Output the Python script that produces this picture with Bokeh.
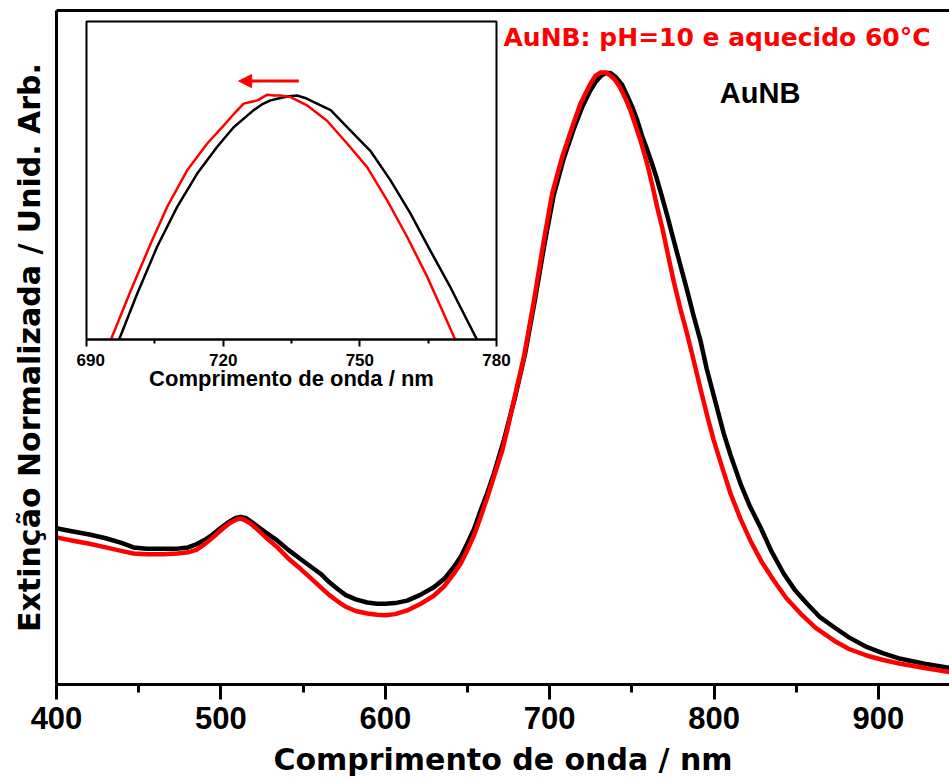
from bokeh.plotting import figure
from bokeh.models import Range1d, FixedTicker, LinearAxis, Label, Arrow, NormalHead
from bokeh.embed import file_html
from bokeh.resources import INLINE

# ---------------- data (main spectrum) ----------------
wl_black = [400.6, 410, 420, 430, 440, 446.8, 455, 465, 473.6, 480, 485, 490, 495, 500, 505,
            509, 512, 515, 518, 522, 527, 534.4, 541, 548.4, 555, 560.6, 566, 571, 576, 582,
            589, 595, 600, 606, 613.3, 621, 629.5, 636, 641.7, 646, 649.8, 654, 657.9, 662,
            666, 672.1, 679, 685, 691, 697, 702.5, 708.6, 714.7, 720, 724, 728, 731, 734, 737,
            740, 744, 747, 750, 753, 756, 759, 762, 765, 768, 771.5, 775.5, 779.5, 783.6,
            787.5, 791.7, 795.5, 799.8, 805.9, 810, 816.1, 822, 828.2, 835, 842.4, 849, 856.6,
            864, 872.8, 882, 893.1, 903, 913.4, 928, 943.5]
ext_black = [0.255, 0.250, 0.245, 0.239, 0.231, 0.224, 0.222, 0.222, 0.222, 0.224, 0.229, 0.236,
             0.245, 0.256, 0.266, 0.272, 0.274, 0.272, 0.267, 0.259, 0.249, 0.235, 0.220, 0.205,
             0.192, 0.181, 0.167, 0.156, 0.146, 0.139, 0.134, 0.132, 0.132, 0.133, 0.137, 0.146,
             0.159, 0.173, 0.192, 0.209, 0.230, 0.254, 0.284, 0.313, 0.344, 0.399, 0.470, 0.540,
             0.628, 0.722, 0.800, 0.860, 0.908, 0.945, 0.967, 0.985, 0.994, 0.999, 0.999, 0.993,
             0.980, 0.963, 0.945, 0.924, 0.898, 0.876, 0.853, 0.828, 0.800, 0.766, 0.725, 0.685,
             0.644, 0.603, 0.562, 0.516, 0.472, 0.410, 0.375, 0.328, 0.290, 0.257, 0.217, 0.181,
             0.155, 0.132, 0.111, 0.094, 0.077, 0.061, 0.051, 0.042, 0.034, 0.027]

wl_red = [400.6, 410, 420, 430, 440, 446.8, 455, 465, 473.6, 480, 485, 490, 495, 500, 505,
          509, 512, 515, 518, 522, 527, 534.4, 541, 548.4, 555, 560.6, 566, 571, 576, 582,
          589, 595, 600, 606, 613.3, 621, 629.5, 636, 641.7, 646, 649.8, 654, 657.9, 662,
          666, 671.1, 674.1, 678.2, 684.3, 690.4, 696.4, 701.5, 707.6, 713.7, 718.7, 722, 725,
          728, 731, 734, 737, 740, 743.1, 746, 749.1, 752, 755.2, 759.3, 762.5, 765.4, 768.5,
          771.5, 775.5, 779.5, 783.6, 788, 792.2, 796, 799.8, 805, 810, 816, 822.1, 829, 836.3,
          844, 852.6, 862, 872.8, 882, 893.1, 903, 913.4, 928, 943.5]
ext_red = [0.240, 0.235, 0.230, 0.224, 0.218, 0.214, 0.213, 0.213, 0.214, 0.216, 0.220, 0.229,
           0.240, 0.252, 0.263, 0.269, 0.271, 0.268, 0.263, 0.254, 0.241, 0.224, 0.206, 0.189,
           0.173, 0.159, 0.146, 0.136, 0.127, 0.120, 0.116, 0.114, 0.113, 0.115, 0.121, 0.131,
           0.145, 0.161, 0.181, 0.198, 0.219, 0.244, 0.273, 0.305, 0.339, 0.382, 0.415, 0.464,
           0.535, 0.627, 0.725, 0.802, 0.862, 0.911, 0.949, 0.967, 0.983, 0.995, 1.000, 1.000,
           0.995, 0.987, 0.974, 0.958, 0.938, 0.915, 0.889, 0.851, 0.815, 0.780, 0.746, 0.708,
           0.658, 0.614, 0.573, 0.525, 0.478, 0.437, 0.399, 0.354, 0.312, 0.271, 0.235, 0.200,
           0.170, 0.141, 0.116, 0.092, 0.072, 0.058, 0.047, 0.040, 0.034, 0.027, 0.020]

# ---------------- data (inset, zoom on the peak) ----------------
ins_wl_black = [697.1, 701.1, 705.5, 709.9, 714.3, 718.7, 722.3, 726.7, 728.5, 730.4, 732.6,
                734.4, 736.2, 738.0, 739.9, 743.6, 747.9, 752.3, 756.7, 761.1, 765.5, 769.9,
                773.6, 775.8]
ins_black = [0.699, 0.756, 0.814, 0.863, 0.904, 0.937, 0.961, 0.982, 0.989, 0.994, 0.997,
             0.999, 1.000, 0.997, 0.992, 0.982, 0.957, 0.932, 0.896, 0.855, 0.809, 0.764,
             0.723, 0.699]
ins_wl_red = [695.3, 699.7, 704.1, 707.7, 712.1, 716.5, 720.1, 722.3, 724.5, 726.0, 727.5,
              729.7, 731.2, 732.6, 734.8, 738.4, 742.8, 747.2, 751.6, 756.0, 760.4, 764.8,
              768.4, 771.0]
ins_red = [0.699, 0.760, 0.818, 0.863, 0.908, 0.941, 0.963, 0.977, 0.990, 0.992, 0.994,
           1.001, 1.000, 1.000, 0.998, 0.988, 0.969, 0.941, 0.912, 0.871, 0.826, 0.777,
           0.732, 0.699]

main_ticks = [400, 500, 600, 700, 800, 900]
main_minor = [450, 550, 650, 750, 850]
ins_ticks = [690, 720, 750, 780]
ins_minor = [705, 735, 765]

label_red = "AuNB: pH=10 e aquecido 60°C"
label_black = "AuNB"
x_title = "Comprimento de onda / nm"
y_title = "Extinção Normalizada / Unid. Arb."

# ---------------- main figure ----------------
p = figure(width=949, height=780, output_backend="svg", toolbar_location=None,
           x_range=Range1d(400, 943.2), y_range=Range1d(0, 1.1013),
           min_border_left=56, min_border_right=0, min_border_top=10, min_border_bottom=96)
p.outline_line_color = None
p.grid.visible = False
p.background_fill_color = "white"
p.border_fill_color = "white"

xa = p.xaxis[0]
xa.ticker = FixedTicker(ticks=main_ticks, minor_ticks=main_minor)
xa.axis_line_width = 3
xa.major_tick_line_width = 3
xa.minor_tick_line_width = 3
xa.major_tick_out = 15
xa.major_tick_in = 0
xa.minor_tick_out = 8
xa.minor_tick_in = 0
xa.major_label_text_font = "Liberation Sans"
xa.major_label_text_font_style = "bold"
xa.major_label_text_font_size = "31px"
xa.major_label_text_color = "black"
xa.major_label_standoff = 7
xa.axis_label = x_title
xa.axis_label_text_font = "DejaVu Sans"
xa.axis_label_text_font_style = "bold"
xa.axis_label_text_font_size = "30px"
xa.axis_label_text_color = "black"
xa.axis_label_standoff = 10

ya = p.yaxis[0]
ya.ticker = FixedTicker(ticks=[])
ya.axis_line_width = 3
ya.major_tick_out = 0
ya.major_tick_in = 0
ya.minor_tick_out = 0
ya.minor_tick_in = 0
ya.major_label_standoff = 0
ya.axis_label = y_title
ya.axis_label_text_font = "DejaVu Sans"
ya.axis_label_text_font_style = "bold"
ya.axis_label_text_font_size = "30px"
ya.axis_label_text_color = "black"
ya.axis_label_standoff = 10

top = LinearAxis(ticker=FixedTicker(ticks=[]), axis_line_width=3, major_tick_out=0,
                 major_tick_in=0, minor_tick_out=0, minor_tick_in=0, major_label_standoff=0)
p.add_layout(top, "above")

p.line(wl_black, ext_black, line_color="black", line_width=4.5, line_join="round")
p.line(wl_red, ext_red, line_color="#ff0000", line_width=4.5, line_join="round")

p.add_layout(Label(x=671.9, y=1.057, text=label_red, text_font="DejaVu Sans",
                   text_font_style="bold", text_font_size="25px", text_color="#ff0000",
                   text_baseline="alphabetic"))
p.add_layout(Label(x=803.5, y=0.967, text=label_black, text_font="Liberation Sans",
                   text_font_style="bold", text_font_size="29px", text_color="black",
                   text_baseline="alphabetic"))

# ---------------- inset figure ----------------
ins = figure(width=440, height=383, output_backend="svg", toolbar_location=None,
             x_range=Range1d(690, 780), y_range=Range1d(0.70, 1.091),
             min_border_left=10, min_border_right=20, min_border_top=5, min_border_bottom=60,
             y_axis_location=None)
ins.background_fill_color = None
ins.border_fill_color = None
ins.outline_line_color = "black"
ins.outline_line_width = 2
ins.grid.visible = False
ins.styles = {"position": "absolute", "left": "76px", "top": "16px"}

ia = ins.xaxis[0]
ia.ticker = FixedTicker(ticks=ins_ticks, minor_ticks=ins_minor)
ia.axis_line_width = 2
ia.major_tick_line_width = 2
ia.minor_tick_line_width = 2
ia.major_tick_out = 7
ia.major_tick_in = 0
ia.minor_tick_out = 4
ia.minor_tick_in = 0
ia.major_label_text_font = "Liberation Sans"
ia.major_label_text_font_style = "bold"
ia.major_label_text_font_size = "17px"
ia.major_label_text_color = "black"
ia.major_label_standoff = 7
ia.axis_label = x_title
ia.axis_label_text_font = "Liberation Sans"
ia.axis_label_text_font_style = "bold"
ia.axis_label_text_font_size = "22px"
ia.axis_label_text_color = "black"
ia.axis_label_standoff = -3

ins.line(ins_wl_black, ins_black, line_color="black", line_width=2.5, line_join="round")
ins.line(ins_wl_red, ins_red, line_color="#ff0000", line_width=2.5, line_join="round")
ins.add_layout(Arrow(end=NormalHead(size=13, fill_color="#ff0000", line_color="#ff0000"),
                     x_start=736.6, y_start=1.0177, x_end=723.4, y_end=1.0177,
                     line_color="#ff0000", line_width=3))

open("out.html", "w").write(file_html([p, ins], INLINE))
